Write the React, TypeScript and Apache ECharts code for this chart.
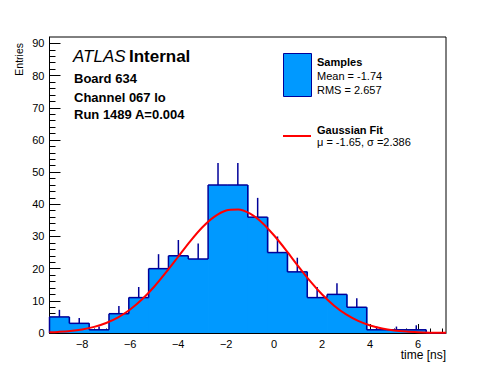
import React, { useEffect, useRef } from "react";
import * as echarts from "echarts";

// Histogram (20 bins)
const xMin = -9.36;
const xMax = 7.16;
const binWidth = 0.826;
const counts = [5, 3, 1, 6, 11, 20, 24, 23, 46, 46, 36, 25, 19, 11, 12, 8, 1, 1, 1, 0];
const errors = [2.2, 1.7, 1, 2.4, 3.3, 4.5, 4.9, 4.8, 6.8, 6.8, 6, 5, 4.4, 3.3, 3.5, 2.8, 1, 1, 1.4, 0];

// Gaussian fit curve
const fitX = [-9.36, -9, -8.5, -8, -7.5, -7, -6.5, -6, -5.5, -5, -4.5, -4, -3.5, -3, -2.5, -2, -1.5, -1, -0.5, 0, 0.5, 1, 1.5, 2, 2.5, 3, 3.5, 4, 4.5, 5, 5.5, 6, 6.5, 7, 7.16];
const fitY = [0.21, 0.34, 0.62, 1.12, 1.9, 3.12, 4.88, 7.31, 10.47, 14.37, 18.9, 23.7, 28.5, 32.8, 36.1, 38.1, 38.4, 37.1, 34.3, 30.3, 25.7, 20.8, 16.1, 11.95, 8.48, 5.76, 3.75, 2.33, 1.39, 0.79, 0.43, 0.23, 0.11, 0.05, 0.04];

// Axis ticks
const xMajorTicks = [-8, -6, -4, -2, 0, 2, 4, 6];
const xMinorTicks = [-9, -8.5, -7.5, -7, -6.5, -5.5, -5, -4.5, -3.5, -3, -2.5, -1.5, -1, -0.5, 0.5, 1, 1.5, 2.5, 3, 3.5, 4.5, 5, 5.5, 6.5, 7];
const yMax = 92;
const yMajorTicks = [0, 10, 20, 30, 40, 50, 60, 70, 80, 90];
const yMinorTicks = [2, 4, 6, 8, 12, 14, 16, 18, 22, 24, 26, 28, 32, 34, 36, 38, 42, 44, 46, 48, 52, 54, 56, 58, 62, 64, 66, 68, 72, 74, 76, 78, 82, 84, 86, 88];

const FILL = "#0099ff";
const EDGE = "#000099";
const RED = "#ff0000";
const FONT = "'Liberation Sans', Arial, Helvetica, sans-serif";

const fmt = (v: number) => (v < 0 ? "\u2212" + Math.abs(v) : String(v));

export default function App() {
  const ref = useRef<HTMLDivElement>(null);
  useEffect(() => {
    if (!ref.current) return;
    const chart = echarts.init(ref.current, null, { renderer: "svg" });

    const rows = counts.map((c, i) => [
      xMin + i * binWidth,
      xMin + (i + 1) * binWidth,
      c,
      i === 0 ? 0 : counts[i - 1],
      errors[i],
      i === counts.length - 1 ? 1 : 0,
    ]);

    const grid = { left: 49.5, top: 37, right: 50, bottom: 39, show: true, borderColor: "#000", borderWidth: 1, backgroundColor: "transparent" };

    const option: any = {
      animation: false,
      backgroundColor: "#fff",
      grid,
      xAxis: [
        {
          type: "value", min: xMin, max: xMax,
          axisLine: { show: true, onZero: false, lineStyle: { color: "#000", width: 1 } },
          axisTick: { show: true, inside: true, length: 9, lineStyle: { color: "#000" }, customValues: xMajorTicks },
          axisLabel: { show: true, customValues: xMajorTicks, formatter: fmt, color: "#000", fontFamily: FONT, fontSize: 11, margin: 5 },
          splitLine: { show: false },
        },
        {
          type: "value", min: xMin, max: xMax, position: "bottom", offset: 0,
          axisLine: { show: false, onZero: false },
          axisTick: { show: true, inside: true, length: 4.5, lineStyle: { color: "#000" }, customValues: xMinorTicks },
          axisLabel: { show: false, customValues: xMinorTicks },
          splitLine: { show: false },
        },
      ],
      yAxis: [
        {
          type: "value", min: 0, max: yMax,
          axisLine: { show: true, onZero: false, lineStyle: { color: "#000", width: 1 } },
          axisTick: { show: true, inside: true, length: 11, lineStyle: { color: "#000" }, customValues: yMajorTicks },
          axisLabel: { show: true, customValues: yMajorTicks, color: "#000", fontFamily: FONT, fontSize: 11, margin: 5 },
          splitLine: { show: false },
        },
        {
          type: "value", min: 0, max: yMax, position: "left", offset: 0,
          axisLine: { show: false, onZero: false },
          axisTick: { show: true, inside: true, length: 6, lineStyle: { color: "#000" }, customValues: yMinorTicks },
          axisLabel: { show: false, customValues: yMinorTicks },
          splitLine: { show: false },
        },
      ],
      series: [
        {
          type: "custom",
          xAxisIndex: 0, yAxisIndex: 0,
          data: rows,
          encode: { x: [0, 1], y: [2] },
          z: 1,
          renderItem: (params: any, api: any) => {
            const lo = api.value(0), hi = api.value(1), v = api.value(2);
            const p0 = api.coord([lo, 0]);
            const p1 = api.coord([hi, v]);
            return {
              type: "rect",
              shape: { x: p0[0], y: p1[1], width: p1[0] - p0[0] + 0.8, height: p0[1] - p1[1] },
              style: { fill: FILL },
            };
          },
        },
        {
          type: "custom",
          xAxisIndex: 0, yAxisIndex: 0,
          data: rows,
          encode: { x: [0, 1], y: [2] },
          z: 2,
          renderItem: (params: any, api: any) => {
            const lo = api.value(0), hi = api.value(1), v = api.value(2), prev = api.value(3), err = api.value(4), last = api.value(5);
            const a = api.coord([lo, v]);
            const b = api.coord([hi, v]);
            const pp = api.coord([lo, prev]);
            const c0 = api.coord([(lo + hi) / 2, v]);
            const c1 = api.coord([(lo + hi) / 2, v + err]);
            const st = { stroke: EDGE, lineWidth: 1.5 };
            const children: any[] = [
              { type: "line", shape: { x1: a[0], y1: a[1], x2: b[0], y2: b[1] }, style: st },
              { type: "line", shape: { x1: pp[0], y1: pp[1], x2: a[0], y2: a[1] }, style: st },
            ];
            if (err > 0) {
              children.push({ type: "line", shape: { x1: c0[0], y1: c0[1], x2: c1[0], y2: c1[1] }, style: st });
            }
            if (last) {
              const z0 = api.coord([hi, 0]);
              children.push({ type: "line", shape: { x1: b[0], y1: b[1], x2: z0[0], y2: z0[1] }, style: st });
            }
            return { type: "group", children };
          },
        },
        {
          type: "line",
          xAxisIndex: 0, yAxisIndex: 0,
          data: fitX.map((x, i) => [x, fitY[i]]),
          showSymbol: false,
          smooth: 0.3,
          lineStyle: { color: RED, width: 2 },
          z: 3,
        },
      ],
      graphic: [
        {
          type: "text", left: 73, top: 48,
          style: {
            text: "{a|ATLAS} {b|Internal}",
            rich: {
              a: { fontStyle: "italic", fontSize: 17, fontFamily: FONT, fill: "#000" },
              b: { fontWeight: "bold", fontSize: 17, fontFamily: FONT, fill: "#000" },
            },
          },
        },
        { type: "text", x: 74, y: 78, style: { text: "Board 634", font: `bold 13px ${FONT}`, fill: "#000", verticalAlign: "middle" } },
        { type: "text", x: 74, y: 97, style: { text: "Channel 067 lo", font: `bold 13px ${FONT}`, fill: "#000", verticalAlign: "middle" } },
        { type: "text", x: 74, y: 114, style: { text: "Run 1489 A=0.004", font: `bold 13px ${FONT}`, fill: "#000", verticalAlign: "middle" } },
        // Legend
        { type: "rect", shape: { x: 283.5, y: 53.5, width: 28, height: 43 }, style: { fill: FILL, stroke: EDGE, lineWidth: 1 } },
        { type: "text", x: 317, y: 61.5, style: { text: "Samples", font: `bold 11px ${FONT}`, fill: "#000", verticalAlign: "middle" } },
        { type: "text", x: 317, y: 76, style: { text: "Mean = -1.74", font: `11px ${FONT}`, fill: "#000", verticalAlign: "middle" } },
        { type: "text", x: 317, y: 90, style: { text: "RMS = 2.657", font: `11px ${FONT}`, fill: "#000", verticalAlign: "middle" } },
        { type: "line", shape: { x1: 283, y1: 136, x2: 311, y2: 136 }, style: { stroke: RED, lineWidth: 2 } },
        { type: "text", x: 317, y: 129.5, style: { text: "Gaussian Fit", font: `bold 11px ${FONT}`, fill: "#000", verticalAlign: "middle" } },
        { type: "text", x: 317, y: 142, style: { text: "\u03bc = -1.65, \u03c3 =2.386", font: `11px ${FONT}`, fill: "#000", verticalAlign: "middle" } },
        // Axis titles
        { type: "text", x: 446, y: 355, style: { text: "time [ns]", font: `12px ${FONT}`, fill: "#000", align: "right", verticalAlign: "middle" } },
        { type: "text", x: 19, y: 43, rotation: Math.PI / 2, style: { text: "Entries", font: `10.5px ${FONT}`, fill: "#000", align: "right", verticalAlign: "middle" } },
      ],
    };
    chart.setOption(option);
    return () => chart.dispose();
  }, []);
  return <div ref={ref} style={{ position: "fixed", left: 0, top: 0, width: 496, height: 372 }} />;
}
